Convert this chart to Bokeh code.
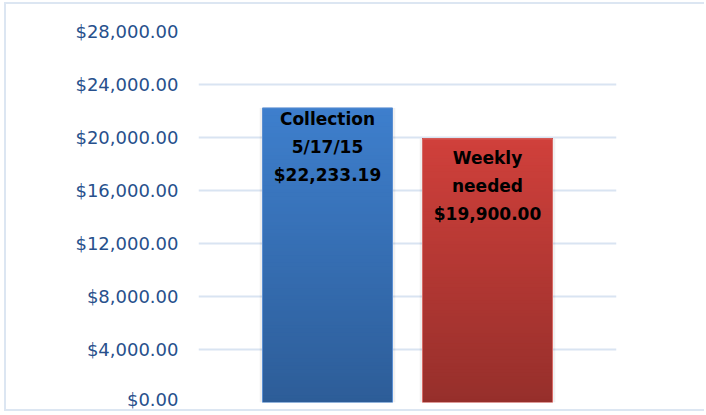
from bokeh.plotting import figure
from bokeh.models import FactorRange, NumeralTickFormatter, ColumnDataSource, FixedTicker, Range1d
from bokeh.embed import file_html
from bokeh.resources import INLINE
from bokeh.core.properties import value

# ---- data ----
categories = ["Collection", "Weekly needed"]
amounts = [22233.19, 19900.00]
label_titles = ["Collection\n5/17/15", "Weekly\nneeded"]
y_ticks = [0, 4000, 8000, 12000, 16000, 20000, 24000, 28000]

# ---- styles ----
top_colors = [(62, 127, 205), (208, 64, 59)]
bottom_colors = [(45, 93, 152), (150, 47, 43)]
edge_colors = ["#5b8fd2", "#d76a66"]
label_offsets = [1, 9]
BAR_W = 0.8125
BORDER = "2px solid #dce6f2"

p = figure(width=700, height=409, output_backend="svg", toolbar_location=None,
           x_range=FactorRange(factors=categories, range_padding=0.30625),
           y_range=Range1d(0, 28000),
           min_border_left=192, min_border_right=90, min_border_top=27, min_border_bottom=11)
p.styles = {"margin-left": "4px", "margin-top": "2px", "vertical-align": "top",
            "border-left": BORDER, "border-top": BORDER,
            "border-bottom": BORDER, "border-right": "none"}
p.outline_line_color = None
p.background_fill_color = "white"
p.border_fill_color = "white"

# gradient bars built from the values (each strip runs to the bar top, later strips overlay)
N = 80
xs, bots, tops, cols = [], [], [], []
for i, (c, v) in enumerate(zip(categories, amounts)):
    for k in range(N):
        f = (k + 0.5) / N
        r, g, b = [int(round(bottom_colors[i][j] + (top_colors[i][j] - bottom_colors[i][j]) * f)) for j in range(3)]
        xs.append(c)
        bots.append(v * k / N)
        tops.append(v)
        cols.append("#%02x%02x%02x" % (r, g, b))

p.vbar(x=categories, top=amounts, bottom=0, width=BAR_W + 0.035, fill_color="#000000",
       fill_alpha=0.06, line_color=None)
p.vbar(x=xs, bottom=bots, top=tops, width=BAR_W, fill_color=cols, line_color=None)
p.vbar(x=categories, top=amounts, bottom=0, width=BAR_W, fill_color=None,
       line_color=edge_colors, line_width=1)

labels = [f"{t}\n${v:,.2f}" for t, v in zip(label_titles, amounts)]
src = ColumnDataSource(dict(x=categories, y=amounts, text=labels, yo=label_offsets))
p.text(x="x", y="y", text="text", y_offset="yo", source=src, text_align="center",
       text_baseline="top", text_font=value("DejaVu Sans"), text_font_style="bold",
       text_font_size="17px", text_color="black", text_line_height=1.4)

p.xaxis.visible = False
p.xgrid.grid_line_color = None
p.ygrid.grid_line_color = "#d9e4f2"
p.ygrid.grid_line_width = 2
p.yaxis.ticker = FixedTicker(ticks=y_ticks)
p.yaxis.formatter = NumeralTickFormatter(format="$0,0.00")
p.yaxis.axis_line_color = None
p.yaxis.major_tick_line_color = None
p.yaxis.minor_tick_line_color = None
p.yaxis.major_tick_out = 0
p.yaxis.major_label_standoff = 20
p.yaxis.major_label_text_font = "DejaVu Sans"
p.yaxis.major_label_text_font_size = "18px"
p.yaxis.major_label_text_color = "#27508c"

html = file_html(p, INLINE)
html = html.replace("<body>", '<body style="margin:0;overflow:hidden">', 1)
open("out.html", "w").write(html)
